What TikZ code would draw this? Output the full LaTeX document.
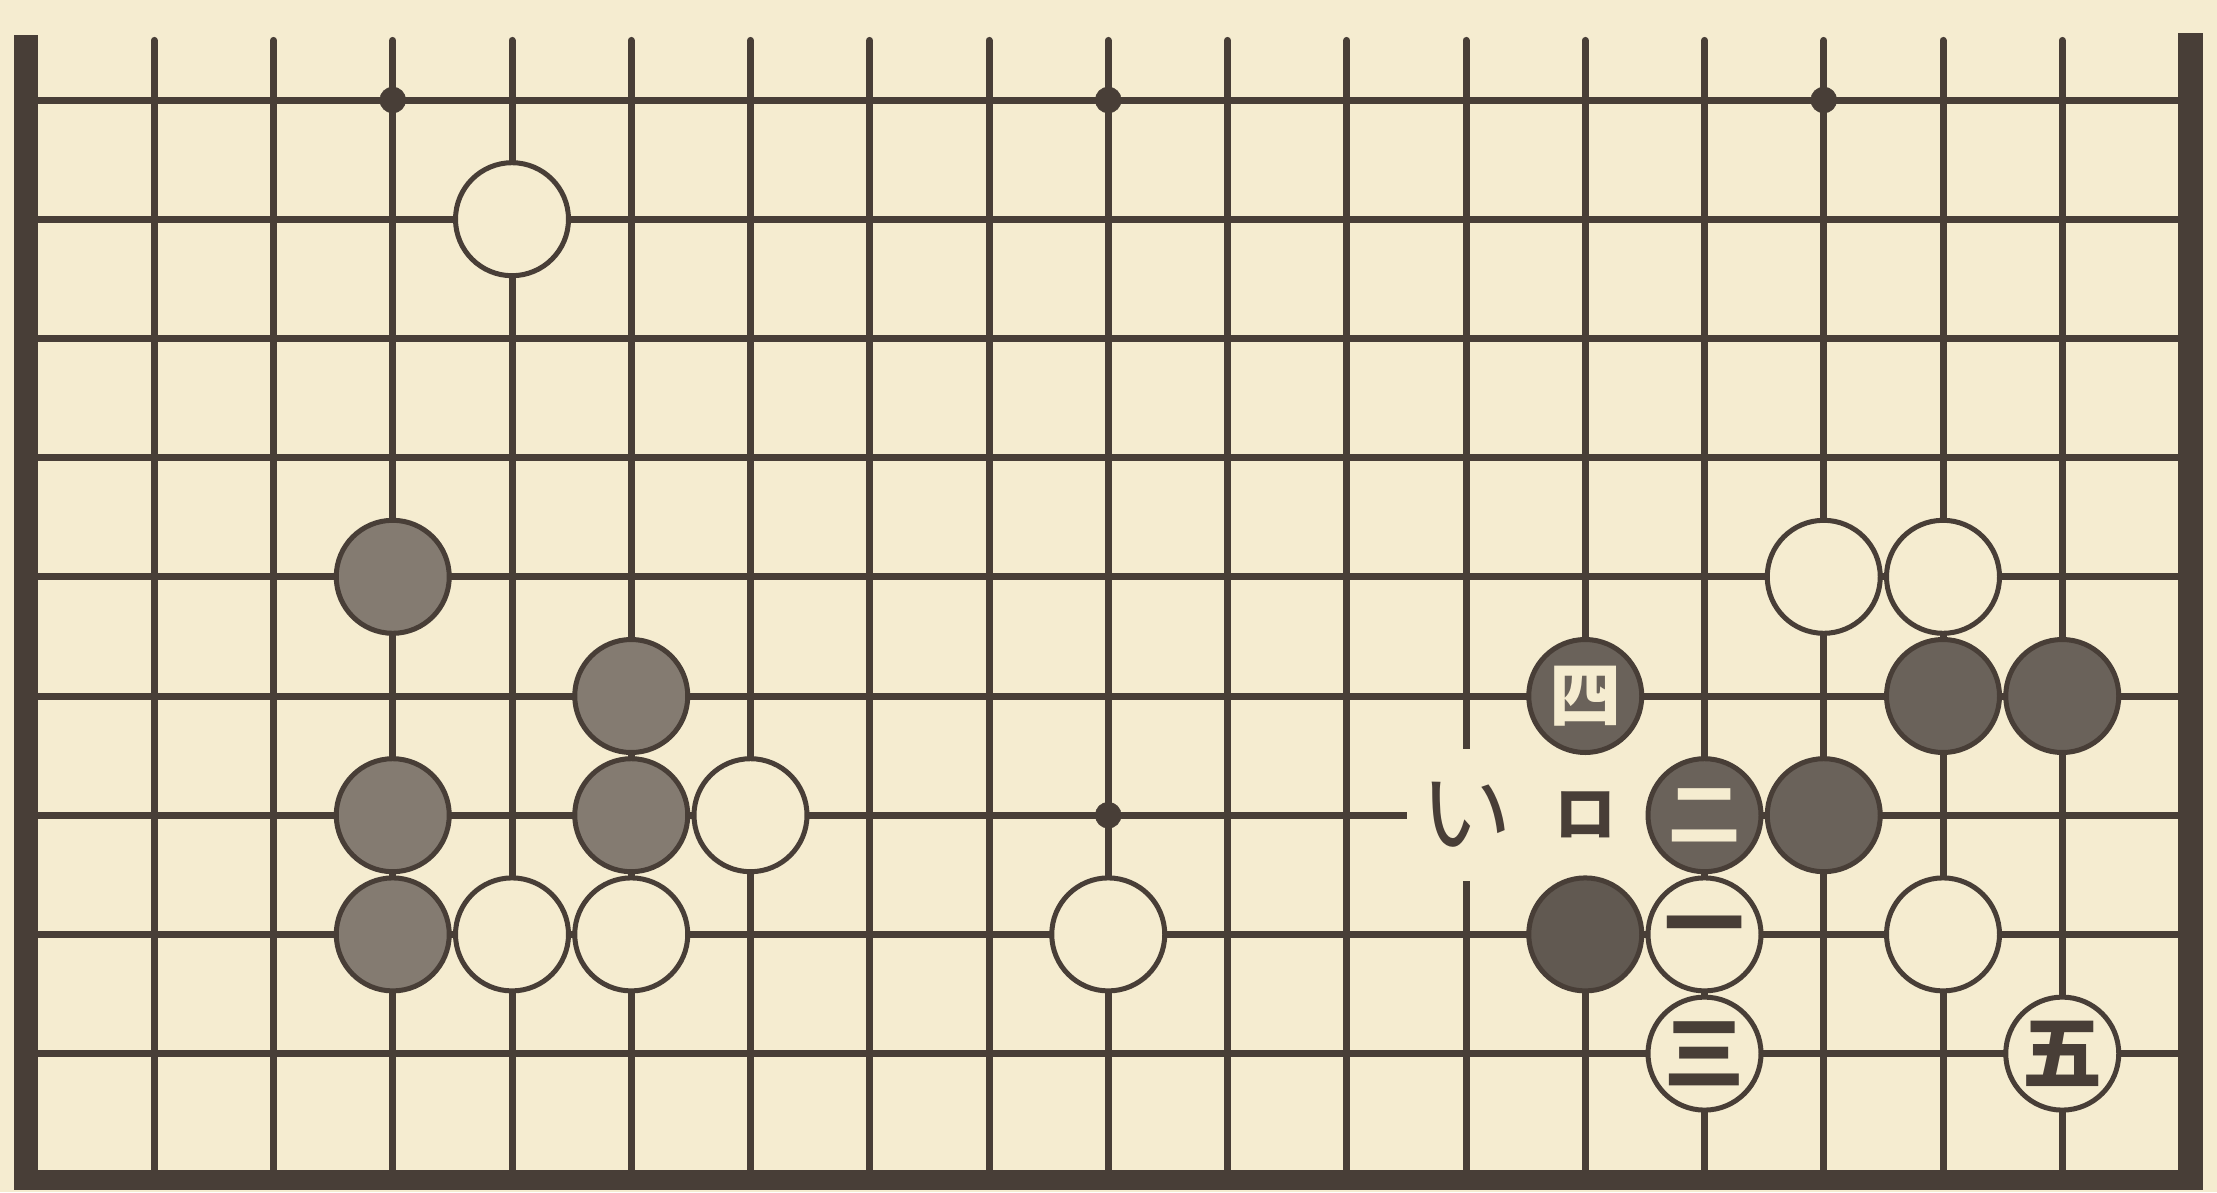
\documentclass[tikz,border=0pt]{standalone}
\usepackage{fontspec}
\newfontfamily\cjk{Noto Sans CJK JP}
\definecolor{paper}{RGB}{245,236,208}
\definecolor{ink}{RGB}{72,62,55}
\definecolor{bfillL}{RGB}{132,123,113}
\definecolor{bfillR}{RGB}{106,98,90}
\begin{document}
\begin{tikzpicture}[x=119.25pt, y=-119.2pt,
  gl/.style={line width=7pt, draw=ink, line cap=round},
  stone/.style={circle, minimum size=113pt, inner sep=0pt, line width=5pt, draw=ink},
  wstone/.style={stone, fill=paper},
  bstoneL/.style={stone, fill=bfillL},
  bstoneR/.style={stone, fill=bfillR},
  starpt/.style={circle, fill=ink, draw=ink, minimum size=26pt, inner sep=0pt},
  wnum/.style={font=\cjk\bfseries\fontsize{80}{80}\selectfont, text=ink},
  bnum/.style={font=\cjk\bfseries\fontsize{72}{72}\selectfont, text=paper},
  kana/.style={fill=paper, inner sep=0pt, minimum height=132pt, text=ink}]
\useasboundingbox[fill=paper] (-35pt,100pt) rectangle (2182pt,-1092pt);
% grid
\foreach \i in {1,...,17} \draw[gl] (\i,-0.5) -- (\i,9);
\foreach \j in {0,...,8} \draw[gl, line cap=butt] (0,\j) -- (18,\j);
% thick borders
\fill[ink] (-21pt,65pt) rectangle (3pt,-1090pt);
\fill[ink] (2143pt,67pt) rectangle (2168pt,-1090pt);
\fill[ink] (-21pt,-1070pt) rectangle (2168pt,-1090pt);
% star points
\node[starpt] (h1) at (3,0) {};
\node[starpt] (h2) at (9,0) {};
\node[starpt] (h3) at (15,0) {};
\node[starpt] (h4) at (9,6) {};
% labels い ロ
\node[kana, minimum width=118pt, font=\cjk\fontsize{92}{92}\selectfont] (li) at (12,6) {い};
\node[kana, minimum width=124pt, font=\cjk\bfseries\fontsize{62}{62}\selectfont] (lro) at (13,6) {ロ};
% white stones
\node[wstone] (w1) at (4,1) {};
\node[wstone] (w2) at (6,6) {};
\node[wstone] (w3) at (4,7) {};
\node[wstone] (w4) at (5,7) {};
\node[wstone] (w5) at (9,7) {};
\node[wstone] (w6) at (15,4) {};
\node[wstone] (w7) at (16,4) {};
\node[wstone] (w8) at (16,7) {};
\node[wstone, wnum] (m1) at (14,7) {一};
\node[wstone, wnum] (m3) at (14,8) {三};
\node[wstone, wnum] (m5) at (17,8) {五};
% black stones
\node[bstoneL] (b1) at (3,4) {};
\node[bstoneL] (b2) at (5,5) {};
\node[bstoneL] (b3) at (3,6) {};
\node[bstoneL] (b4) at (5,6) {};
\node[bstoneL] (b5) at (3,7) {};
\node[bstoneR] (b6) at (16,5) {};
\node[bstoneR] (b7) at (17,5) {};
\node[bstoneR] (b8) at (15,6) {};
\node[bstoneR, fill=bfillR!75!ink] (b9) at (13,7) {};
\node[bstoneR, bnum] (m4) at (13,5) {四};
\node[bstoneR, bnum] (m2) at (14,6) {二};
\end{tikzpicture}
\end{document}
